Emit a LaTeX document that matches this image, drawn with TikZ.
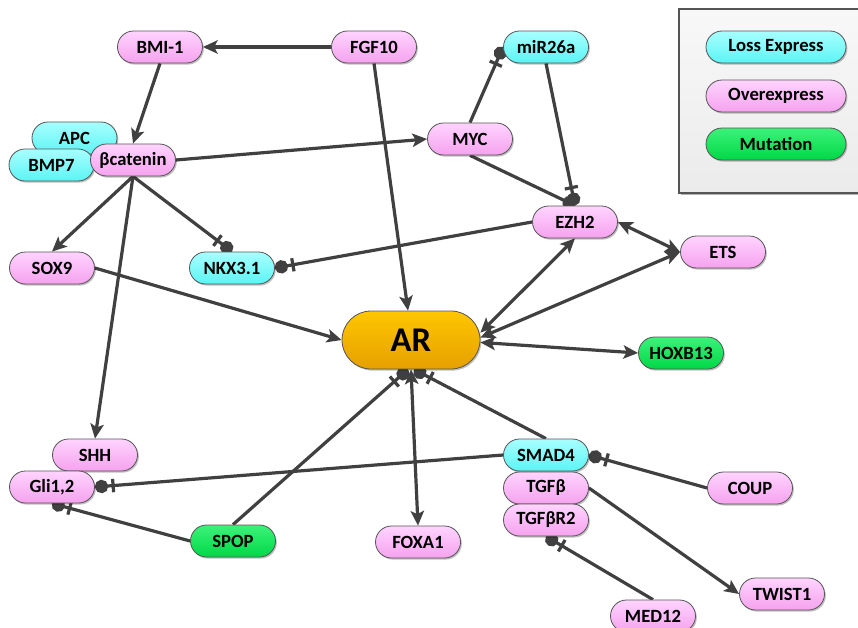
\documentclass[tikz,border=0pt]{standalone}
\usepackage{fontspec}
\setmainfont{Carlito}[BoldFont={Carlito Bold}]
\usetikzlibrary{arrows.meta,shadows,calc}
\definecolor{edgec}{HTML}{404040}
\definecolor{bordc}{HTML}{555555}
\definecolor{pinkT}{HTML}{FFD4FF}
\definecolor{pinkB}{HTML}{F5A2EE}
\definecolor{cyanT}{HTML}{A8FFFF}
\definecolor{cyanB}{HTML}{5CF4F4}
\definecolor{greenT}{HTML}{3CF27A}
\definecolor{greenB}{HTML}{00D846}
\definecolor{arT}{HTML}{FFC600}
\definecolor{arB}{HTML}{E6A000}
\definecolor{legT}{HTML}{F8F8F8}
\definecolor{legB}{HTML}{EBEBEB}
\pgfdeclarelayer{edges}
\pgfsetlayers{edges,main}
\begin{document}
\begin{tikzpicture}[x=0.75pt,y=-0.75pt,
  box/.style={rectangle, rounded corners=12pt, minimum width=63.75pt, minimum height=24pt,
    inner sep=0pt, draw=bordc, line width=0.6pt, text=black,
    font=\fontsize{14}{16}\selectfont\bfseries,
    drop shadow={shadow xshift=1pt, shadow yshift=-1.2pt, opacity=0.25, fill=black}},
  pinkn/.style={box, top color=pinkT, bottom color=pinkB},
  cyann/.style={box, top color=cyanT, bottom color=cyanB},
  greenn/.style={box, top color=greenT, bottom color=greenB},
  arn/.style={box, top color=arT, bottom color=arB, minimum width=103.5pt, minimum height=43.5pt,
    rounded corners=21.75pt, font=\fontsize{26}{28}\selectfont\bfseries},
  link/.style={draw=edgec, line width=2.4pt},
  act/.style={link, -{Stealth[length=11pt,width=10pt,inset=2.5pt]}},
  both/.style={link, {Stealth[length=11pt,width=10pt,inset=2.5pt]}-{Stealth[length=11pt,width=10pt,inset=2.5pt]}},
  inh/.style={link, -{Bar[width=10pt,sep=2.5pt]Circle[length=10pt]}},
  dotend/.style={link, -{Circle[length=10pt]}}
]
\useasboundingbox (0,0) rectangle (858,628);

% legend
\path[draw=bordc, line width=0.8pt, top color=legT, bottom color=legB,
  drop shadow={shadow xshift=1.5pt, shadow yshift=-1.5pt, opacity=0.3, fill=black}]
  (679,9) rectangle (875,193);
\node[cyann, minimum width=105pt] (L1) at (776,47) {Loss Express};
\node[pinkn, minimum width=105pt] (L2) at (776,96) {Overexpress};
\node[greenn, minimum width=105pt] (L3) at (776,144) {Mutation};

% nodes
\node[pinkn] (BMI) at (160,47) {BMI-1};
\node[pinkn] (FGF) at (374,47) {FGF10};
\node[cyann] (MIR) at (546,47) {miR26a};
\node[cyann] (APC) at (74.5,138) {APC};
\node[cyann] (BMP) at (51.5,165) {BMP7};
\node[pinkn] (BCAT) at (133,160) {βcatenin};
\node[pinkn] (MYC) at (470,139) {MYC};
\node[pinkn] (EZH) at (575,222) {EZH2};
\node[pinkn] (ETS) at (723,252) {ETS};
\node[pinkn] (SOX) at (52,268) {SOX9};
\node[cyann] (NKX) at (232,268) {NKX3.1};
\node[arn] (AR) at (411,340) {AR};
\node[greenn] (HOX) at (681,353) {HOXB13};
\node[pinkn] (SHH) at (95,455) {SHH};
\node[pinkn] (GLI) at (52,487) {Gli1,2};
\node[greenn] (SPOP) at (233,541) {SPOP};
\node[pinkn] (FOXA) at (418,542) {FOXA1};
\node[cyann] (SMAD) at (546,455) {SMAD4};
\node[pinkn] (TGFB) at (546,488) {TGFβ};
\node[pinkn] (TGFR) at (546,520) {TGFβR2};
\node[pinkn] (COUP) at (750,488) {COUP};
\node[pinkn] (TWIST) at (782,594) {TWIST1};
\node[pinkn] (MED) at (653,616) {MED12};

% edges
\begin{pgfonlayer}{edges}
\draw[act] (FGF.west) -- (BMI.east);
\draw[act] (BMI.south) -- (BCAT.north);
\draw[act] (FGF.south) -- ($(AR.north)+(-3,0)$);
\draw[act] (BCAT.east) -- (MYC.west);
\draw[inh] (MYC.north) -- (MIR.west);
\draw[inh] (MIR.south) -- (EZH.north);
\draw[dotend] (MYC.south) -- (EZH.north);
\draw[inh] (BCAT.south) -- (NKX.north);
\draw[inh] (EZH.west) -- (NKX.east);
\draw[act] (BCAT.south) -- (SOX.north);
\draw[act] (BCAT.south) -- (SHH.north);
\draw[act] (SOX.east) -- (AR.west);
\draw[both] (EZH.south) -- (AR.6);
\draw[both] (EZH.east) -- (ETS.west);
\draw[both] (ETS.west) -- (AR.2);
\draw[both] (AR.-2) -- (HOX.west);
\draw[both] (AR.south) -- (FOXA.north);
\draw[inh] (SPOP.north) -- ($(AR.south)+(-3,0)$);
\draw[inh] (SMAD.north) -- ($(AR.south)+(3,0)$);
\draw[inh] (SMAD.west) -- (GLI.east);
\draw[inh] (SPOP.west) -- (GLI.south);
\draw[inh] (COUP.west) -- (SMAD.east);
\draw[act] (TGFB.east) -- (TWIST.west);
\draw[inh] (MED.north) -- (TGFR.south);
\end{pgfonlayer}
\end{tikzpicture}
\end{document}
